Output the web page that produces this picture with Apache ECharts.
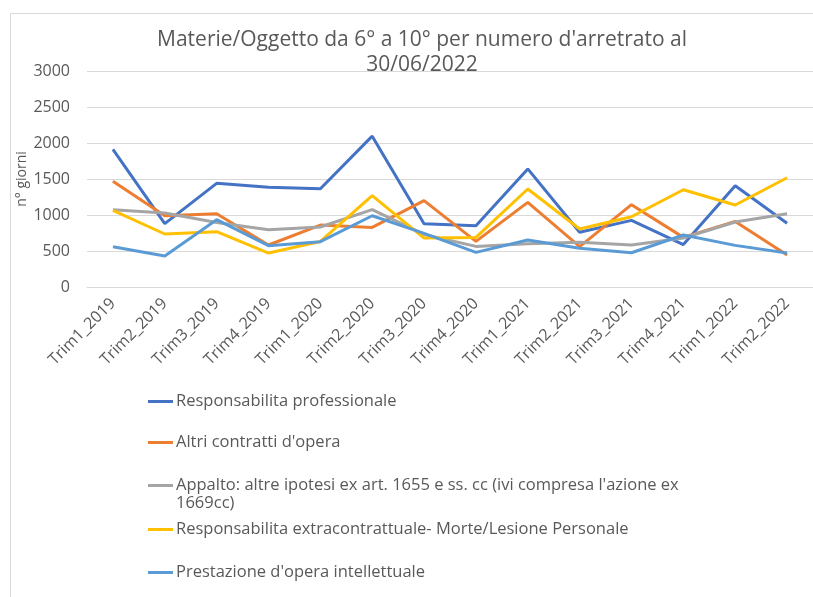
<!DOCTYPE html>
<html>
<head>
<meta charset="utf-8">
<script src="https://cdn.jsdelivr.net/npm/echarts@6/dist/echarts.min.js"></script>
<style>html,body{margin:0;padding:0;background:#fff}#c{width:813px;height:597px}</style>
</head>
<body>
<div id="c"></div>
<script>
const categories = ['Trim1_2019','Trim2_2019','Trim3_2019','Trim4_2019','Trim1_2020','Trim2_2020','Trim3_2020','Trim4_2020','Trim1_2021','Trim2_2021','Trim3_2021','Trim4_2021','Trim1_2022','Trim2_2022'];
const seriesNames = [
  'Responsabilita professionale',
  "Altri contratti d'opera",
  "Appalto: altre ipotesi ex art. 1655 e ss. cc (ivi compresa l'azione ex 1669cc)",
  'Responsabilita extracontrattuale- Morte/Lesione Personale',
  "Prestazione d'opera intellettuale"
];
const respProfessionale = [1910, 880, 1440, 1385, 1365, 2095, 880, 850, 1640, 760, 925, 590, 1405, 885];
const altriContratti    = [1470, 990, 1018, 583, 860, 828, 1199, 633, 1175, 560, 1143, 689, 911, 444];
const appalto           = [1074, 1028, 897, 796, 833, 1074, 730, 564, 601, 620, 583, 680, 903, 1018];
const respExtracontr    = [1064, 736, 768, 472, 633, 1268, 680, 689, 1361, 805, 976, 1351, 1139, 1518];
const prestazione       = [560, 430, 935, 574, 629, 990, 745, 481, 653, 537, 476, 722, 578, 472];
const yTicks = [0, 500, 1000, 1500, 2000, 2500, 3000];
const colors = ['#4472C4', '#ED7D31', '#A5A5A5', '#FFC000', '#5B9BD5'];
const allData = [respProfessionale, altriContratti, appalto, respExtracontr, prestazione];

const FONT = 'Open Sans';
const TXT = '#595959';
const legendTops = [399, 440, 483, 527, 570];

const chart = echarts.init(document.getElementById('c'));
chart.setOption({
  animation: false,
  title: {
    text: "Materie/Oggetto da 6° a 10° per numero d'arretrato al\n30/06/2022",
    left: 417, top: 23, textAlign: 'center',
    textStyle: { fontFamily: FONT, fontSize: 21, fontWeight: 'normal', color: TXT, lineHeight: 25 }
  },
  graphic: [
    { type: 'rect', left: 8, top: 11, silent: true, z: -1,
      shape: { width: 900, height: 700 }, style: { fill: 'none', stroke: '#d9d9d9', lineWidth: 1 } },
    { type: 'text', left: 176, top: 495, silent: true,
      style: { text: '1669cc)', font: '16.5px "Open Sans"', fill: TXT } }
  ],
  legend: seriesNames.map((n, i) => ({
    data: [n], left: 143, top: legendTops[i] - 11, icon: 'rect', itemWidth: 25, itemHeight: 3, itemGap: 0,
    formatter: (name) => i === 2 ? "Appalto: altre ipotesi ex art. 1655 e ss. cc (ivi compresa l'azione ex" : name,
    textStyle: { fontFamily: FONT, fontSize: 16.5, color: TXT, padding: [0, 0, 0, -2] }
  })),
  grid: { left: 87, right: 0, top: 71, bottom: 310, containLabel: false },
  xAxis: {
    type: 'category', data: categories, boundaryGap: true,
    axisLine: { lineStyle: { color: '#d9d9d9' } }, axisTick: { show: false },
    axisLabel: { rotate: 45, interval: 0, margin: 14, fontFamily: FONT, fontSize: 16, color: TXT }
  },
  yAxis: {
    type: 'value', min: yTicks[0], max: yTicks[yTicks.length - 1], interval: 500,
    name: 'n° giorni', nameLocation: 'middle', nameGap: 58, nameRotate: 90, nameMoveOverlap: false,
    nameTextStyle: { fontFamily: FONT, fontSize: 14, color: TXT },
    axisLine: { show: false }, axisTick: { show: false },
    axisLabel: { margin: 17, fontFamily: FONT, fontSize: 16, color: TXT, formatter: (v) => String(v) },
    splitLine: { lineStyle: { color: '#d9d9d9', width: 1 } }
  },
  series: seriesNames.map((n, i) => ({
    name: n, type: 'line', data: allData[i], symbol: 'none',
    lineStyle: { color: colors[i], width: 3 }, itemStyle: { color: colors[i] }
  }))
});
</script>
</body>
</html>
